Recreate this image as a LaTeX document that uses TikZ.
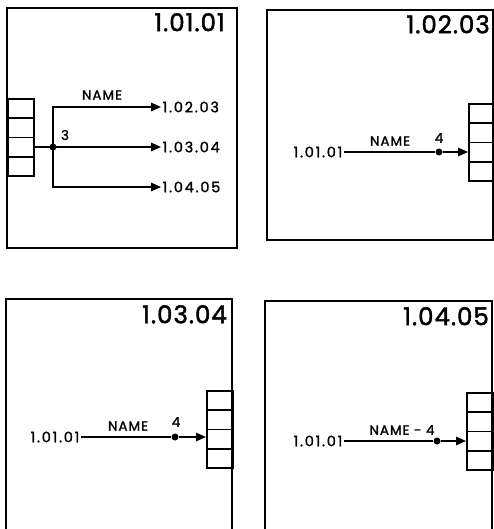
\documentclass[tikz,border=0pt]{standalone}
\usepackage{fontspec}
\setmainfont{Poppins}[FakeBold=1.2]
\newfontfamily\lblfont[LetterSpace=12,FakeBold=1.5]{Poppins}
\newfontfamily\namefont[LetterSpace=7,FakeBold=1.5]{Poppins}
\newfontfamily\titlefont[LetterSpace=4,FakeBold=1.8]{Poppins}
\usetikzlibrary{arrows.meta}
\tikzset{
  frame/.style={line width=1.3pt},
  port/.style={draw, line width=1.7pt, minimum width=26pt, minimum height=19.3pt, inner sep=0pt, anchor=north west},
  wire/.style={line width=1.4pt},
  flow/.style={line width=1.4pt, -{Triangle[length=10pt,width=8.5pt]}},
  dot/.style={circle, fill, inner sep=0pt, minimum size=7pt},
  title/.style={font=\titlefont\fontsize{24.5}{25}\selectfont, anchor=north east, inner sep=0pt},
  ref/.style={font=\lblfont\fontsize{14.5}{15}\selectfont, inner sep=1.5pt},
  lbl/.style={font=\namefont\fontsize{13.5}{14}\selectfont, inner sep=0pt},
}
\begin{document}
\begin{tikzpicture}[x=1pt,y=-1pt]
\useasboundingbox (0,0) rectangle (493,529);
% ---------- panel 1 ----------
\draw[frame] (7,8) rectangle (237,248);
\node[title] (t1) at (225,13) {1.01.01};
\foreach \i in {1,...,4} \node[port] (pa\i) at (7,{98+(\i-1)*19.3}) {};
\coordinate (j1) at (53,147);
\node[ref, anchor=west] (a1) at (161,107) {1.02.03};
\node[ref, anchor=west] (a2) at (161,147) {1.03.04};
\node[ref, anchor=west] (a3) at (161,187) {1.04.05};
\draw[wire] (pa3.east |- j1) -- (j1);
\draw[flow] (j1) |- (a1.west);
\draw[flow] (j1) -- (a2.west);
\draw[flow] (j1) |- (a3.west);
\node[dot] (d1) at (j1) {};
\node[lbl] (n1) at (102,95) {NAME};
\node[lbl] (c1) at (65,135) {3};
% ---------- panel 2 ----------
\draw[frame] (267,10) rectangle (493,240);
\node[title] (t2) at (490,15) {1.02.03};
\foreach \i in {1,...,4} \node[port] (pb\i) at (468,{103+(\i-1)*19.3}) {};
\node[ref, anchor=east] (s2) at (344,152) {1.01.01};
\coordinate (e2) at (pb3.west |- s2);
\node[dot] (d2) at (439,152) {};
\draw[wire] (s2.east) -- (d2);
\draw[flow] (d2) -- (e2);
\node[lbl] (n2) at (390,141) {NAME};
\node[lbl] (c2) at (439,138) {4};
% ---------- panel 3 ----------
\draw[frame] (6,540) -- (6,299) -- (232,299) -- (232,540);
\node[title] (t3) at (227,305) {1.03.04};
\foreach \i in {1,...,4} \node[port] (pc\i) at (206,{390+(\i-1)*19.3}) {};
\node[ref, anchor=east] (s3) at (81,437) {1.01.01};
\coordinate (e3) at (pc3.west |- s3);
\node[dot] (d3) at (175,437) {};
\draw[wire] (s3.east) -- (d3);
\draw[flow] (d3) -- (e3);
\node[lbl] (n3) at (128,426) {NAME};
\node[lbl] (c3) at (176,422) {4};
% ---------- panel 4 ----------
\draw[frame] (265,540) -- (265,301) -- (492,301) -- (492,540);
\node[title] (t4) at (489,307) {1.04.05};
\foreach \i in {1,...,4} \node[port] (pd\i) at (466,{392+(\i-1)*19.3}) {};
\node[ref, anchor=east] (s4) at (344,441) {1.01.01};
\coordinate (e4) at (pd3.west |- s4);
\node[dot] (d4) at (437,441) {};
\draw[wire] (s4.east) -- (d4);
\draw[flow] (d4) -- (e4);
\node[lbl] (n4) at (402,430) {NAME - 4};
\end{tikzpicture}
\end{document}
